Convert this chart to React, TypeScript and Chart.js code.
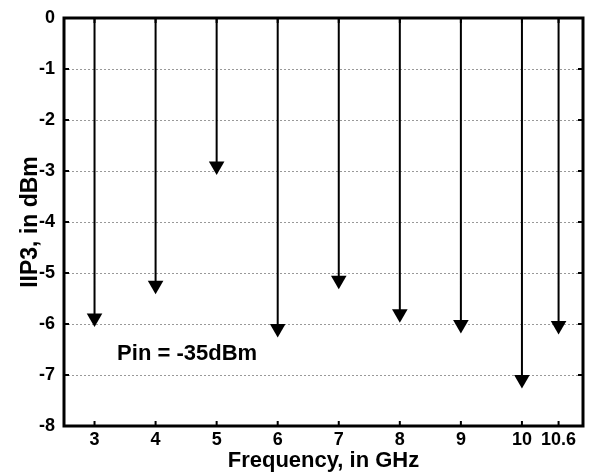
import React, { useEffect, useRef } from "react";
import { Chart, registerables } from "chart.js";

Chart.register(...registerables);

const frequencies = [3, 4, 5, 6, 7, 8, 9, 10, 10.6];
const iip3Values = [-5.88, -5.24, -2.9, -6.09, -5.14, -5.8, -6.01, -7.09, -6.03];
const xTickValues = [3, 4, 5, 6, 7, 8, 9, 10, 10.6];
const yTickValues = [0, -1, -2, -3, -4, -5, -6, -7, -8];
const annotationText = "Pin = -35dBm";

const FONT = "'Liberation Sans', Arial, sans-serif";

export default function App() {
  const ref = useRef<HTMLCanvasElement | null>(null);

  useEffect(() => {
    if (!ref.current) return;
    const stemData: any[] = [];
    frequencies.forEach((f, i) => {
      stemData.push({ x: f, y: 0 });
      stemData.push({ x: f, y: iip3Values[i] });
      stemData.push({ x: f, y: null });
    });
    const headData = frequencies.map((f, i) => ({ x: f, y: iip3Values[i] }));

    const framePlugin = {
      id: "frame",
      afterDraw(chart: any) {
        const { ctx, chartArea: a, scales } = chart;
        ctx.save();
        ctx.strokeStyle = "#000";
        ctx.lineWidth = 2;
        const tl = 5;
        ctx.beginPath();
        yTickValues.forEach((v) => {
          const y = scales.y.getPixelForValue(v);
          ctx.moveTo(a.left, y);
          ctx.lineTo(a.left + tl, y);
          ctx.moveTo(a.right, y);
          ctx.lineTo(a.right - tl, y);
        });
        xTickValues.forEach((v) => {
          const x = scales.x.getPixelForValue(v);
          ctx.moveTo(x, a.bottom);
          ctx.lineTo(x, a.bottom - tl);
          ctx.moveTo(x, a.top);
          ctx.lineTo(x, a.top + tl);
        });
        ctx.stroke();
        ctx.lineWidth = 3;
        ctx.strokeRect(a.left, a.top, a.right - a.left, a.bottom - a.top);
        // annotation
        ctx.fillStyle = "#000";
        ctx.font = `bold 22px ${FONT}`;
        ctx.textAlign = "left";
        ctx.textBaseline = "middle";
        ctx.fillText(annotationText, scales.x.getPixelForValue(3.37), scales.y.getPixelForValue(-6.58));
        ctx.restore();
      },
    };

    const chart = new Chart(ref.current, {
      type: "scatter",
      data: {
        datasets: [
          {
            type: "line",
            data: stemData,
            borderColor: "#000",
            borderWidth: 2,
            pointRadius: 0,
            spanGaps: false,
            fill: false,
          } as any,
          {
            type: "scatter",
            data: headData,
            pointStyle: "triangle",
            rotation: 180,
            pointRadius: 9,
            backgroundColor: "#000",
            borderColor: "#000",
            borderWidth: 0,
          } as any,
        ],
      },
      plugins: [framePlugin],
      options: {
        animation: false,
        responsive: false,
        maintainAspectRatio: false,
        layout: { padding: { left: 0, top: 13, right: 8, bottom: 0 } },
        plugins: { legend: { display: false }, tooltip: { enabled: false } },
        scales: {
          x: {
            type: "linear",
            min: 2.5,
            max: 11,
            afterBuildTicks: (scale: any) => {
              scale.ticks = xTickValues.map((v) => ({ value: v }));
            },
            afterFit: (scale: any) => {
              scale.height = 47;
            },
            ticks: {
              autoSkip: false,
              maxRotation: 0,
              color: "#000",
              padding: 3,
              font: { family: FONT, size: 18, weight: "bold" },
              callback: (v: any) => String(v),
            },
            grid: { display: false, drawTicks: false },
            border: { display: false },
            title: {
              display: true,
              text: "Frequency, in GHz",
              color: "#000",
              font: { family: FONT, size: 22, weight: "bold" },
              padding: { top: 0, bottom: -1 },
            },
          },
          y: {
            type: "linear",
            min: -8,
            max: 0,
            afterBuildTicks: (scale: any) => {
              scale.ticks = yTickValues.map((v) => ({ value: v }));
            },
            afterFit: (scale: any) => {
              scale.width = 64;
            },
            ticks: {
              color: "#000",
              padding: 9,
              font: { family: FONT, size: 18, weight: "bold", lineHeight: 1 },
            },
            grid: {
              color: "#999",
              lineWidth: 1,
              drawTicks: false,
            },
            border: { display: false, dash: [2, 2] },
            title: {
              display: true,
              text: "IIP3, in dBm",
              color: "#000",
              font: { family: FONT, size: 23, weight: "bold" },
              padding: { top: 17, bottom: 0 },
            },
          },
        },
      } as any,
    });
    return () => chart.destroy();
  }, []);

  return (
    <div style={{ position: "fixed", left: 0, top: 0, width: 592, height: 473, background: "#fff" }}>
      <canvas ref={ref} width={592} height={473} style={{ width: 592, height: 473 }} />
    </div>
  );
}
